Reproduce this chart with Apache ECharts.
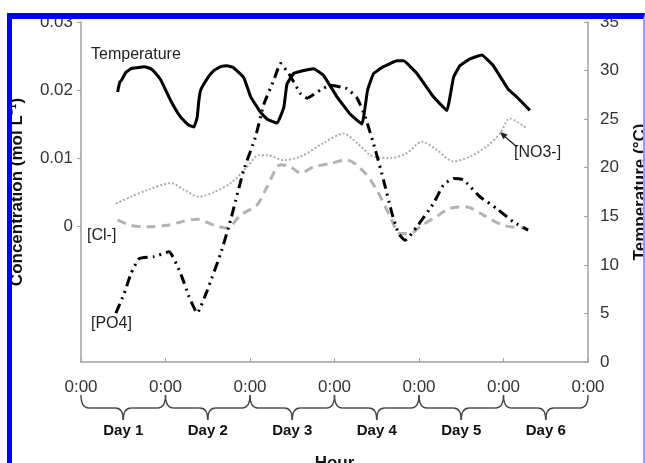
<!DOCTYPE html>
<html>
<head>
<meta charset="utf-8">
<script src="https://cdn.jsdelivr.net/npm/echarts@6/dist/echarts.min.js"></script>
<style>
  html, body { margin: 0; padding: 0; background: #fff; }
  #wrap { position: relative; width: 645px; height: 463px; overflow: hidden; }
  #chart { width: 645px; height: 463px; }
  #frame {
    position: absolute; left: 7px; top: 13px; width: 638px; height: 470px;
    box-sizing: border-box; pointer-events: none;
    border-left: 5px solid #0000ff; border-top: 6px solid #0000ff; border-right: 2px solid #9a9aff;
  }
</style>
</head>
<body>
<div id="wrap">
  <div id="chart"></div>
  <div id="frame"></div>
</div>
<script>
// hours from start of Day 1
const dayLabels = ['Day 1', 'Day 2', 'Day 3', 'Day 4', 'Day 5', 'Day 6'];
const tickLabel = '0:00';

// temperature, right axis (°C)
const tempHours = [10.4, 11.0, 11.5, 12.7, 14.2, 16, 18, 19.8, 21, 22.7, 25.5, 28.3, 30.5, 32.1, 33.0, 33.5, 34.0, 35.9, 37.7, 39.7, 41.5, 43.3, 46.2, 48.2, 51.0, 52.9, 55.7, 57.6, 58.5, 60.4, 63.3, 66.1, 68.9, 72.7, 76.5, 79.8, 81.4, 83.1, 85.9, 89.7, 91.6, 95.4, 100.1, 103.9, 105.8, 107.6, 110.5, 113.8, 117.1, 121.3, 123.7, 127.5];
const tempValues = [27.8, 28.8, 29.0, 29.8, 30.2, 30.3, 30.4, 30.2, 29.8, 29.0, 26.9, 25.2, 24.4, 24.2, 25.2, 27.0, 28.0, 29.2, 30.0, 30.4, 30.5, 30.3, 29.3, 27.3, 25.7, 25.0, 24.6, 26.2, 28.6, 29.7, 30.0, 30.2, 29.5, 27.3, 25.5, 24.5, 28.0, 29.7, 30.4, 31.0, 31.0, 29.7, 27.3, 25.9, 29.3, 30.5, 31.2, 31.6, 30.5, 28.1, 27.3, 25.9];

// [NO3-], left axis
const no3Hours = [9.9, 14.2, 18.9, 25.5, 29.3, 33.6, 37.8, 42.5, 47.2, 50.5, 52.9, 57.6, 62.3, 68.9, 74.6, 78.4, 83.1, 87.8, 92.5, 96.8, 101, 105.8, 110.5, 115.2, 119, 121.8, 126.5];
const no3Values = [0.0033, 0.0043, 0.0053, 0.0063, 0.0053, 0.0043, 0.0050, 0.0063, 0.0087, 0.0104, 0.0104, 0.0097, 0.0102, 0.0122, 0.0136, 0.0122, 0.0102, 0.0100, 0.0107, 0.0124, 0.0112, 0.0095, 0.0102, 0.0117, 0.0136, 0.0158, 0.0144];

// [Cl-], left axis
const clHours = [10.4, 14.2, 18.9, 24.6, 28.3, 33.0, 37.8, 41.5, 45.3, 50.0, 52.9, 56.7, 59.5, 62.3, 66.1, 70.8, 75.5, 80.3, 84.0, 87.8, 90.6, 93.5, 96.8, 101, 104.8, 109.5, 114.3, 119.9, 126.5];
const clValues = [0.0009, 0.0001, -0.0001, 0.0001, 0.0006, 0.0010, 0.0001, -0.0003, 0.0016, 0.0031, 0.0058, 0.0090, 0.0087, 0.0078, 0.0087, 0.0092, 0.0097, 0.0080, 0.0053, 0.0014, -0.0011, -0.0011, 0.0001, 0.0014, 0.0026, 0.0028, 0.0016, 0.0001, -0.0003];

// [PO4], left axis
const po4Hours = [9.9, 12.3, 14.2, 16.5, 20.8, 25.0, 28.3, 30.7, 33.0, 35.9, 39.7, 42.5, 46.2, 49.5, 52.0, 54.8, 56.7, 59.5, 62.3, 64.2, 68.0, 70.8, 75.5, 78.4, 80.7, 83.6, 85.9, 88.3, 90.2, 92.1, 95.4, 100.1, 102.9, 105.8, 108.6, 113.3, 118.0, 122.8, 127.0];
const po4Values = [-0.0128, -0.0099, -0.0070, -0.0048, -0.0045, -0.0038, -0.0070, -0.0104, -0.0128, -0.0094, -0.0040, 0.0009, 0.0082, 0.0130, 0.0180, 0.0215, 0.0239, 0.0220, 0.0195, 0.0188, 0.0200, 0.0207, 0.0202, 0.0188, 0.0161, 0.0112, 0.0068, 0.0019, -0.0011, -0.0021, -0.0001, 0.0033, 0.0060, 0.0070, 0.0068, 0.0043, 0.0026, 0.0006, -0.0006];

const concTicks = [0, 0.01, 0.02, 0.03];

const pairs = (xs, ys) => xs.map((x, i) => [x, ys[i]]);
const FONT = 'Liberation Sans, Arial, sans-serif';

const chart = echarts.init(document.getElementById('chart'));

const option = {
  animation: false,
  backgroundColor: '#fff',
  grid: { left: 81, right: 57, top: 22, bottom: 101, containLabel: false, outerBoundsMode: 'none' },
  xAxis: {
    type: 'value',
    min: 0,
    max: 144,
    interval: 24,
    name: 'Hour',
    nameLocation: 'middle',
    nameGap: 93,
    nameTextStyle: { fontFamily: FONT, fontSize: 17, fontWeight: 'bold', color: '#111' },
    axisLine: { onZero: false, lineStyle: { color: '#a0a0a0', width: 1.5 } },
    axisTick: { inside: true, length: 4, lineStyle: { color: '#a0a0a0' } },
    axisLabel: { formatter: () => tickLabel, margin: 17, fontFamily: FONT, fontSize: 17, color: '#333' },
    splitLine: { show: false }
  },
  yAxis: [
    {
      type: 'value',
      min: -0.02,
      max: 0.03,
      interval: 0.01,
      name: 'Concentration (mol L\u207B\u00B9)',
      nameLocation: 'middle',
      nameRotate: 90,
      nameGap: 55,
      nameTextStyle: { fontFamily: FONT, fontSize: 17, fontWeight: 'bold', color: '#111' },
      axisLine: { show: true, onZero: false, lineStyle: { color: '#a0a0a0', width: 1.5 } },
      axisTick: { show: true, length: 4, customValues: concTicks, lineStyle: { color: '#a0a0a0' } },
      axisLabel: {
        customValues: concTicks,
        margin: 8,
        fontFamily: FONT, fontSize: 17, color: '#333',
        formatter: v => (v < 0 ? '' : (v === 0 ? '0' : v.toFixed(2)))
      },
      splitLine: { show: false }
    },
    {
      type: 'value',
      position: 'right',
      min: 0,
      max: 35,
      interval: 5,
      name: 'Temperature (\u00B0C)',
      nameLocation: 'middle',
      nameRotate: 90,
      nameGap: 44,
      nameTextStyle: { fontFamily: FONT, fontSize: 17, fontWeight: 'bold', color: '#111' },
      axisLine: { show: true, onZero: false, lineStyle: { color: '#a0a0a0', width: 1.5 } },
      axisTick: { show: true, length: 4, inside: true, lineStyle: { color: '#a0a0a0' } },
      axisLabel: { margin: 12, fontFamily: FONT, fontSize: 17, color: '#333' },
      splitLine: { show: false }
    }
  ],
  series: [
    {
      name: '[NO3-]', type: 'line', yAxisIndex: 0, showSymbol: false, smooth: 0.3,
      lineStyle: { color: '#ababab', width: 2, type: [2, 2] },
      data: pairs(no3Hours, no3Values)
    },
    {
      name: '[Cl-]', type: 'line', yAxisIndex: 0, showSymbol: false, smooth: 0.3,
      lineStyle: { color: '#b3b3b3', width: 3, type: [9, 6] },
      data: pairs(clHours, clValues)
    },
    {
      name: '[PO4]', type: 'line', yAxisIndex: 0, showSymbol: false, smooth: 0.15,
      lineStyle: { color: '#000', width: 3, type: [10, 5, 2, 5, 2, 5] },
      data: pairs(po4Hours, po4Values)
    },
    {
      name: 'Temperature', type: 'line', yAxisIndex: 1, showSymbol: false, smooth: 0.1,
      lineStyle: { color: '#000', width: 3 },
      data: pairs(tempHours, tempValues)
    }
  ]
};

chart.setOption(option);

// braces + day labels under the time axis, series annotations
const graphics = [];
const yTop = 395, yBar = 408, yTip = 420;
const braceStyle = { fill: null, stroke: '#444', lineWidth: 1.4 };
const curve = (x1, y1, cpx1, cpy1, x2, y2) => ({
  type: 'bezierCurve', shape: { x1, y1, cpx1, cpy1, x2, y2 }, style: braceStyle
});
const seg = (x1, y1, x2, y2) => ({ type: 'line', shape: { x1, y1, x2, y2 }, style: braceStyle });

dayLabels.forEach((label, i) => {
  const x0 = chart.convertToPixel({ xAxisIndex: 0 }, i * 24);
  const x1 = chart.convertToPixel({ xAxisIndex: 0 }, (i + 1) * 24);
  const xm = (x0 + x1) / 2;
  graphics.push(curve(x0, yTop, x0, yBar, x0 + 8, yBar));
  graphics.push(seg(x0 + 8, yBar, xm - 8, yBar));
  graphics.push(curve(xm - 8, yBar, xm, yBar, xm, yTip));
  graphics.push(curve(xm, yTip, xm, yBar, xm + 8, yBar));
  graphics.push(seg(xm + 8, yBar, x1 - 8, yBar));
  graphics.push(curve(x1 - 8, yBar, x1, yBar, x1, yTop));
  graphics.push({
    type: 'text', x: xm, y: 431,
    style: { text: label, font: `bold 15px ${FONT}`, fill: '#111', align: 'center', verticalAlign: 'middle' }
  });
});

const note = (text, x, y) => ({
  type: 'text', x, y,
  style: { text, font: `16px ${FONT}`, fill: '#222', align: 'left', verticalAlign: 'middle' }
});
graphics.push(note('Temperature', 91, 55));
graphics.push(note('[Cl-]', 87, 236));
graphics.push(note('[PO4]', 91, 324));
graphics.push(note('[NO3-]', 514, 153));
graphics.push({
  type: 'line',
  shape: { x1: 517, y1: 147, x2: 503, y2: 135 },
  style: { stroke: '#222', lineWidth: 1.3 }
});
graphics.push({
  type: 'polygon',
  shape: { points: [[500, 132], [507.5, 134.4], [503.3, 139.2]] },
  style: { fill: '#222' }
});

chart.setOption({ graphic: graphics });
</script>
</body>
</html>
